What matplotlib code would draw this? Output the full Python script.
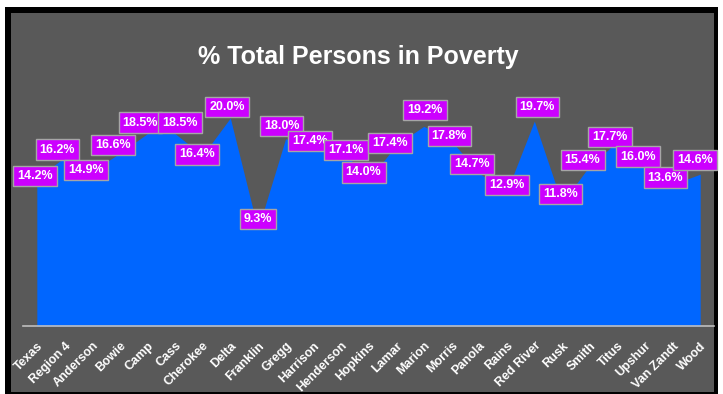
import numpy as np
import matplotlib
matplotlib.use("Agg")
import matplotlib.pyplot as plt
from matplotlib.patches import Rectangle

## Data
counties = ["Texas", "Region 4", "Anderson", "Bowie", "Camp", "Cass", "Cherokee",
            "Delta", "Franklin", "Gregg", "Harrison", "Henderson", "Hopkins", "Lamar",
            "Marion", "Morris", "Panola", "Rains", "Red River", "Rusk", "Smith",
            "Titus", "Upshur", "Van Zandt", "Wood"]
poverty = [14.2, 16.2, 14.9, 16.6, 18.5, 18.5, 16.4, 20.0, 9.3, 18.0, 17.4, 17.1,
           14.0, 17.4, 19.2, 17.8, 14.7, 12.9, 19.7, 11.8, 15.4, 17.7, 16.0, 13.6, 14.6]
title = "% Total Persons in Poverty"

# label box offsets from each point (pixels, right / up)
label_dx = [-2, -7, -6, -7, -7, 5, -6, -3, 0, -4, -3, 5, -5, -6, 1, -2, -7, 0, 3, -1,
            -7, -7, -7, -7, -5]
label_dy = [2, 8, 1, 8, 11, 11, 1, 11, 10, 13, 4, -2, 8, 2, 16, 5, 9, 7, 14, 9,
            6, 5, 3, 7, 14]

## Styling
W, H = 723, 394
bg_gray = "#595959"
area_blue = "#0066FF"
label_fill = "#CC00FF"
plt.rcParams["font.family"] = ["Liberation Sans", "DejaVu Sans"]


def fig_box(x0, y0, x1, y1):
    # pixel box (top-left origin) -> figure fraction rect
    return (x0 / W, 1 - y1 / H, (x1 - x0) / W, (y1 - y0) / H)


fig = plt.figure(figsize=(W / 100, H / 100), dpi=100, facecolor="white")

# black frame and gray chart area
x, y, w, h = fig_box(5, 7, 718, 400)
fig.patches.append(Rectangle((x, y), w, h, transform=fig.transFigure,
                             facecolor="black", edgecolor="none", zorder=-2))
x, y, w, h = fig_box(11, 13, 714, 392)
fig.patches.append(Rectangle((x, y), w, h, transform=fig.transFigure,
                             facecolor=bg_gray, edgecolor="none", zorder=-1))

ax = fig.add_axes(fig_box(23, 66, 714, 326))
ax.set_facecolor("none")
ax.set_zorder(1)

xs = np.arange(len(counties))
ax.fill_between(xs, 0, poverty, color=area_blue, linewidth=0, zorder=2)
ax.set_xlim(-0.5, len(counties) - 0.5)
ax.set_ylim(0, 25)

for sp in ["top", "right", "left"]:
    ax.spines[sp].set_visible(False)
ax.spines["bottom"].set_color("#BFBFBF")
ax.spines["bottom"].set_linewidth(1.2)
ax.spines["bottom"].set_zorder(3)
ax.set_yticks([])
ax.set_xticks(xs)
ax.set_xticklabels(counties, rotation=45, ha="right", rotation_mode="anchor",
                   color="white", fontsize=9, fontweight="bold")
ax.tick_params(axis="x", length=0, pad=10)

# data labels
for i, v in enumerate(poverty):
    ax.annotate(f"{v:.1f}%", (xs[i], v), xytext=(label_dx[i], label_dy[i]),
                textcoords="offset pixels", ha="center", va="center",
                color="white", fontsize=9, fontweight="bold", zorder=5,
                bbox=dict(boxstyle="square,pad=0.33", facecolor=label_fill,
                          edgecolor="#A6A6A6", linewidth=1))

fig.text(358 / W, 1 - 64 / H, title, ha="center", va="baseline",
         color="white", fontsize=18, fontweight="bold")

fig.savefig("out.png", dpi=100, facecolor="white")
